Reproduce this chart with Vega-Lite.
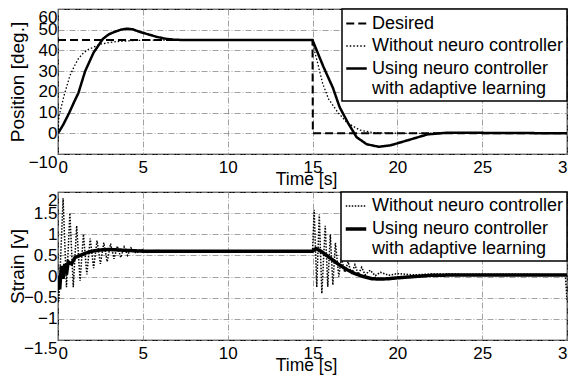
{
  "$schema": "https://vega.github.io/schema/vega-lite/v6.json",
  "background": "white",
  "padding": {"left": 7, "top": 7, "right": 0, "bottom": 0},
  "spacing": 1,
  "config": {
    "font": "Liberation Sans",
    "view": {"stroke": "black", "strokeWidth": 1.2},
    "axis": {
      "grid": true, "gridColor": "#8a8a8a", "gridDash": [6, 2, 1, 2], "gridWidth": 0.8,
      "ticks": false, "domain": false, "labelOverlap": false,
      "labelFont": "Liberation Sans", "labelFontSize": 17, "labelColor": "black",
      "titleFont": "Liberation Sans", "titleFontWeight": "normal", "titleColor": "black"
    },
    "axisX": {"labelPadding": 5, "titleFontSize": 17.5, "titleY": 16, "titleBaseline": "top", "labelFlush": false,
      "labelAlign": {"condition": {"test": "datum.value == 0", "value": "left"}, "value": "center"}},
    "axisY": {"labelPadding": 1, "titleFontSize": 19, "titleX": -35, "titleBaseline": "alphabetic", "labelFlush": false},
    "legend": {
      "orient": "top-right", "offset": 0, "padding": 3, "strokeColor": "black", "strokeWidth": 1.5,
      "fillColor": "white", "labelFont": "Liberation Sans", "labelFontSize": 18, "labelColor": "black",
      "labelLimit": 400, "symbolType": "stroke", "symbolSize": 420, "symbolStrokeColor": "black",
      "rowPadding": 2, "title": null, "cornerRadius": 0
    }
  },
  "datasets": {
    "pos": [
      {"series": "Desired", "t": 0, "v": 45}, {"series": "Desired", "t": 15, "v": 45},
      {"series": "Desired", "t": 15.02, "v": 0}, {"series": "Desired", "t": 30, "v": 0},
      {"series": "Without neuro controller", "t": 0, "v": 0}, {"series": "Without neuro controller", "t": 0.05, "v": 8},
      {"series": "Without neuro controller", "t": 0.35, "v": 18}, {"series": "Without neuro controller", "t": 0.7, "v": 27.8},
      {"series": "Without neuro controller", "t": 1.0, "v": 33}, {"series": "Without neuro controller", "t": 1.2, "v": 36},
      {"series": "Without neuro controller", "t": 1.5, "v": 38.8}, {"series": "Without neuro controller", "t": 1.8, "v": 40.5},
      {"series": "Without neuro controller", "t": 2.2, "v": 42}, {"series": "Without neuro controller", "t": 2.5, "v": 43},
      {"series": "Without neuro controller", "t": 3.0, "v": 43.8}, {"series": "Without neuro controller", "t": 3.5, "v": 44.3},
      {"series": "Without neuro controller", "t": 4.5, "v": 44.8}, {"series": "Without neuro controller", "t": 5.5, "v": 45},
      {"series": "Without neuro controller", "t": 15, "v": 45}, {"series": "Without neuro controller", "t": 15.05, "v": 42},
      {"series": "Without neuro controller", "t": 15.3, "v": 34}, {"series": "Without neuro controller", "t": 15.6, "v": 24},
      {"series": "Without neuro controller", "t": 15.95, "v": 16.5}, {"series": "Without neuro controller", "t": 16.5, "v": 10},
      {"series": "Without neuro controller", "t": 17.05, "v": 5}, {"series": "Without neuro controller", "t": 17.8, "v": 1.5},
      {"series": "Without neuro controller", "t": 18.6, "v": 0.3}, {"series": "Without neuro controller", "t": 20, "v": 0},
      {"series": "Without neuro controller", "t": 30, "v": 0},
      {"series": "Using neuro controller", "t": 0, "v": 0}, {"series": "Using neuro controller", "t": 0.3, "v": 4},
      {"series": "Using neuro controller", "t": 0.65, "v": 9.7}, {"series": "Using neuro controller", "t": 1.0, "v": 16},
      {"series": "Using neuro controller", "t": 1.2, "v": 19.4}, {"series": "Using neuro controller", "t": 1.6, "v": 30},
      {"series": "Using neuro controller", "t": 2.1, "v": 39}, {"series": "Using neuro controller", "t": 2.65, "v": 45.6},
      {"series": "Using neuro controller", "t": 3.0, "v": 47.8}, {"series": "Using neuro controller", "t": 3.35, "v": 49},
      {"series": "Using neuro controller", "t": 3.7, "v": 50}, {"series": "Using neuro controller", "t": 4.05, "v": 50.5},
      {"series": "Using neuro controller", "t": 4.4, "v": 50.2}, {"series": "Using neuro controller", "t": 4.8, "v": 49},
      {"series": "Using neuro controller", "t": 5.3, "v": 47.8}, {"series": "Using neuro controller", "t": 5.8, "v": 46.6},
      {"series": "Using neuro controller", "t": 6.3, "v": 45.7}, {"series": "Using neuro controller", "t": 6.8, "v": 45.2},
      {"series": "Using neuro controller", "t": 7.5, "v": 45}, {"series": "Using neuro controller", "t": 15, "v": 45},
      {"series": "Using neuro controller", "t": 15.3, "v": 39}, {"series": "Using neuro controller", "t": 15.65, "v": 32},
      {"series": "Using neuro controller", "t": 16.2, "v": 22}, {"series": "Using neuro controller", "t": 16.6, "v": 12.6},
      {"series": "Using neuro controller", "t": 17.1, "v": 4.9}, {"series": "Using neuro controller", "t": 17.6, "v": -1.9},
      {"series": "Using neuro controller", "t": 18.2, "v": -5.3}, {"series": "Using neuro controller", "t": 18.9, "v": -6.5},
      {"series": "Using neuro controller", "t": 19.6, "v": -5.8}, {"series": "Using neuro controller", "t": 20.6, "v": -3.4},
      {"series": "Using neuro controller", "t": 21.8, "v": -0.5}, {"series": "Using neuro controller", "t": 23, "v": 0.3},
      {"series": "Using neuro controller", "t": 25, "v": 0.2}, {"series": "Using neuro controller", "t": 30, "v": 0}
    ],
    "strain": [
      {"series": "Without neuro controller", "t": 0, "v": 0.0}, {"series": "Without neuro controller", "t": 0.05, "v": -0.58},
      {"series": "Without neuro controller", "t": 0.3, "v": 1.85}, {"series": "Without neuro controller", "t": 0.5, "v": -0.25},
      {"series": "Without neuro controller", "t": 0.7, "v": 1.5}, {"series": "Without neuro controller", "t": 0.9, "v": -0.25},
      {"series": "Without neuro controller", "t": 1.1, "v": 1.2}, {"series": "Without neuro controller", "t": 1.3, "v": -0.1},
      {"series": "Without neuro controller", "t": 1.5, "v": 1.0}, {"series": "Without neuro controller", "t": 1.7, "v": 0.05},
      {"series": "Without neuro controller", "t": 1.9, "v": 0.9}, {"series": "Without neuro controller", "t": 2.1, "v": 0.2},
      {"series": "Without neuro controller", "t": 2.3, "v": 0.85}, {"series": "Without neuro controller", "t": 2.5, "v": 0.3},
      {"series": "Without neuro controller", "t": 2.7, "v": 0.8}, {"series": "Without neuro controller", "t": 2.9, "v": 0.35},
      {"series": "Without neuro controller", "t": 3.1, "v": 0.78}, {"series": "Without neuro controller", "t": 3.3, "v": 0.42},
      {"series": "Without neuro controller", "t": 3.5, "v": 0.72}, {"series": "Without neuro controller", "t": 3.7, "v": 0.45},
      {"series": "Without neuro controller", "t": 3.9, "v": 0.7}, {"series": "Without neuro controller", "t": 4.1, "v": 0.5},
      {"series": "Without neuro controller", "t": 4.3, "v": 0.68}, {"series": "Without neuro controller", "t": 4.6, "v": 0.55},
      {"series": "Without neuro controller", "t": 4.9, "v": 0.65}, {"series": "Without neuro controller", "t": 5.3, "v": 0.57},
      {"series": "Without neuro controller", "t": 5.7, "v": 0.62}, {"series": "Without neuro controller", "t": 6.5, "v": 0.6},
      {"series": "Without neuro controller", "t": 15.0, "v": 0.6}, {"series": "Without neuro controller", "t": 15.1, "v": 1.58},
      {"series": "Without neuro controller", "t": 15.25, "v": -0.25}, {"series": "Without neuro controller", "t": 15.4, "v": 1.47},
      {"series": "Without neuro controller", "t": 15.55, "v": -0.4}, {"series": "Without neuro controller", "t": 15.75, "v": 1.2},
      {"series": "Without neuro controller", "t": 15.9, "v": -0.24}, {"series": "Without neuro controller", "t": 16.05, "v": 1.0},
      {"series": "Without neuro controller", "t": 16.2, "v": -0.2}, {"series": "Without neuro controller", "t": 16.35, "v": 0.8},
      {"series": "Without neuro controller", "t": 16.55, "v": 0.0}, {"series": "Without neuro controller", "t": 16.7, "v": 0.45},
      {"series": "Without neuro controller", "t": 16.9, "v": 0.1}, {"series": "Without neuro controller", "t": 17.1, "v": 0.35},
      {"series": "Without neuro controller", "t": 17.3, "v": 0.05}, {"series": "Without neuro controller", "t": 17.5, "v": 0.28},
      {"series": "Without neuro controller", "t": 17.7, "v": 0.05}, {"series": "Without neuro controller", "t": 17.9, "v": 0.22},
      {"series": "Without neuro controller", "t": 18.1, "v": 0.04}, {"series": "Without neuro controller", "t": 18.4, "v": 0.15},
      {"series": "Without neuro controller", "t": 18.7, "v": 0.02}, {"series": "Without neuro controller", "t": 19.0, "v": 0.1},
      {"series": "Without neuro controller", "t": 19.5, "v": 0.03}, {"series": "Without neuro controller", "t": 20.0, "v": 0.07},
      {"series": "Without neuro controller", "t": 21.0, "v": 0.04}, {"series": "Without neuro controller", "t": 22.0, "v": 0.06},
      {"series": "Without neuro controller", "t": 29.9, "v": 0.05}, {"series": "Without neuro controller", "t": 30, "v": -0.55},
      {"series": "Using neuro controller", "t": 0, "v": 0.0}, {"series": "Using neuro controller", "t": 0.1, "v": -0.3},
      {"series": "Using neuro controller", "t": 0.2, "v": 0.25}, {"series": "Using neuro controller", "t": 0.3, "v": -0.05},
      {"series": "Using neuro controller", "t": 0.4, "v": 0.3}, {"series": "Using neuro controller", "t": 0.5, "v": 0.05},
      {"series": "Using neuro controller", "t": 0.6, "v": 0.35}, {"series": "Using neuro controller", "t": 0.8, "v": 0.3},
      {"series": "Using neuro controller", "t": 1.0, "v": 0.45}, {"series": "Using neuro controller", "t": 1.3, "v": 0.5},
      {"series": "Using neuro controller", "t": 1.6, "v": 0.55}, {"series": "Using neuro controller", "t": 2.0, "v": 0.6},
      {"series": "Using neuro controller", "t": 2.5, "v": 0.63}, {"series": "Using neuro controller", "t": 3.0, "v": 0.64},
      {"series": "Using neuro controller", "t": 3.5, "v": 0.63}, {"series": "Using neuro controller", "t": 4.0, "v": 0.62},
      {"series": "Using neuro controller", "t": 5.0, "v": 0.6}, {"series": "Using neuro controller", "t": 15.0, "v": 0.6},
      {"series": "Using neuro controller", "t": 15.2, "v": 0.66}, {"series": "Using neuro controller", "t": 15.5, "v": 0.6},
      {"series": "Using neuro controller", "t": 16.0, "v": 0.45}, {"series": "Using neuro controller", "t": 16.5, "v": 0.3},
      {"series": "Using neuro controller", "t": 17.0, "v": 0.17}, {"series": "Using neuro controller", "t": 17.5, "v": 0.07},
      {"series": "Using neuro controller", "t": 18.0, "v": 0.0}, {"series": "Using neuro controller", "t": 18.5, "v": -0.05},
      {"series": "Using neuro controller", "t": 19.0, "v": -0.06}, {"series": "Using neuro controller", "t": 19.5, "v": -0.05},
      {"series": "Using neuro controller", "t": 20.0, "v": -0.03}, {"series": "Using neuro controller", "t": 21.0, "v": 0.0},
      {"series": "Using neuro controller", "t": 22.0, "v": 0.03}, {"series": "Using neuro controller", "t": 24.0, "v": 0.04},
      {"series": "Using neuro controller", "t": 30.0, "v": 0.04}
    ]
  },
  "resolve": {"scale": {"x": "independent", "y": "independent", "strokeDash": "independent", "strokeWidth": "independent"}, "legend": {"strokeDash": "independent", "strokeWidth": "independent"}},
  "vconcat": [
    {
      "width": 509, "height": 145,
      "data": {"name": "pos"},
      "mark": {"type": "line", "color": "black", "clip": true},
      "encoding": {
        "x": {"field": "t", "type": "quantitative", "scale": {"domain": [0, 30], "nice": false, "zero": false},
          "axis": {"values": [0, 5, 10, 15, 20, 25, 30], "title": "Time [s]", "titleX": 248, "titleAlign": "center"}},
        "y": {"field": "v", "type": "quantitative", "scale": {"domain": [-10, 60], "nice": false},
          "axis": {"values": [-10, 0, 10, 20, 30, 40, 50, 60], "title": "Position [deg.]",
            "labelBaseline": {"condition": {"test": "datum.value == 60 || datum.value == -10", "value": "top"}, "value": "middle"}}},
        "strokeDash": {"field": "series", "type": "nominal",
          "scale": {"type": "ordinal", "domain": ["Desired", "Without neuro controller", "Using neuro controller"], "range": [[8, 4], [1.5, 2], [1, 0]]},
          "legend": {"labelExpr": "datum.label == 'Using neuro controller' ? ['Using neuro controller', 'with adaptive learning'] : datum.label"}},
        "strokeWidth": {"field": "series", "type": "nominal",
          "scale": {"type": "ordinal", "domain": ["Desired", "Without neuro controller", "Using neuro controller"], "range": [2, 1.3, 2.5]},
          "legend": {"labelExpr": "datum.label == 'Using neuro controller' ? ['Using neuro controller', 'with adaptive learning'] : datum.label"}}
      }
    },
    {
      "width": 509, "height": 148,
      "data": {"name": "strain"},
      "mark": {"type": "line", "color": "black", "clip": true},
      "encoding": {
        "x": {"field": "t", "type": "quantitative", "scale": {"domain": [0, 30], "nice": false, "zero": false},
          "axis": {"values": [0, 5, 10, 15, 20, 25, 30], "title": "Time [s]", "titleX": 248, "titleAlign": "center"}},
        "y": {"field": "v", "type": "quantitative", "scale": {"domain": [-1.5, 2], "nice": false},
          "axis": {"values": [-1.5, -1, -0.5, 0, 0.5, 1, 1.5, 2], "format": "~g", "title": "Strain [v]", "labelOverlap": false,
            "labelBaseline": {"condition": {"test": "datum.value > 1.9 || datum.value < -1.4", "value": "top"}, "value": "middle"}}},
        "strokeDash": {"field": "series", "type": "nominal",
          "scale": {"type": "ordinal", "domain": ["Without neuro controller", "Using neuro controller"], "range": [[1.5, 1.5], [1, 0]]},
          "legend": {"labelExpr": "datum.label == 'Using neuro controller' ? ['Using neuro controller', 'with adaptive learning'] : datum.label"}},
        "strokeWidth": {"field": "series", "type": "nominal",
          "scale": {"type": "ordinal", "domain": ["Without neuro controller", "Using neuro controller"], "range": [1.5, 3.5]},
          "legend": {"labelExpr": "datum.label == 'Using neuro controller' ? ['Using neuro controller', 'with adaptive learning'] : datum.label"}}
      }
    }
  ]
}
